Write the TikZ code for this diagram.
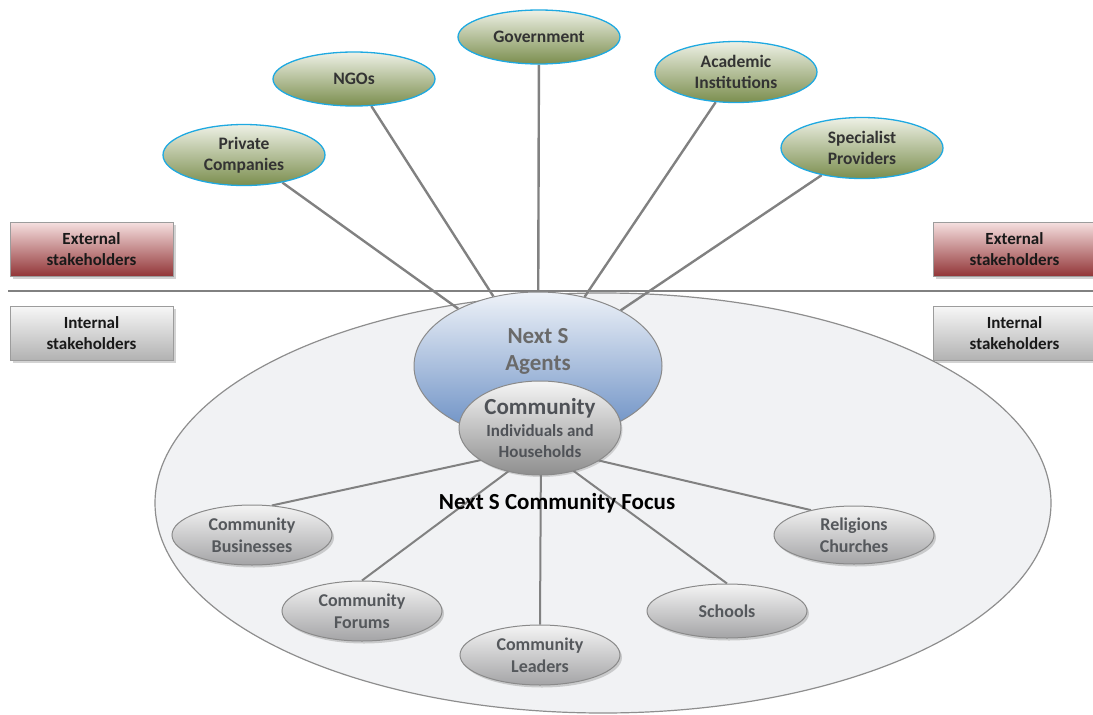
\documentclass[tikz,border=0pt]{standalone}
\usepackage{fontspec}
\setmainfont{Carlito}
\usetikzlibrary{shapes.geometric,shadows}

\definecolor{cyanedge}{HTML}{1FA9E1}
\definecolor{greentop}{HTML}{EEF1E6}
\definecolor{greenbot}{HTML}{7B8E4E}
\definecolor{darktext}{HTML}{333333}
\definecolor{memberedge}{HTML}{8A8A8A}
\definecolor{membertop}{HTML}{F4F4F4}
\definecolor{memberbot}{HTML}{A4A4A6}
\definecolor{membertext}{HTML}{55585C}
\definecolor{boxedge}{HTML}{9C9C9C}
\definecolor{redtop}{HTML}{F6E0E0}
\definecolor{redbot}{HTML}{923638}
\definecolor{greytop}{HTML}{F7F7F7}
\definecolor{greybot}{HTML}{B2B2B2}
\definecolor{fieldfill}{HTML}{F1F2F4}
\definecolor{fieldedge}{HTML}{8E8E8E}
\definecolor{linkgray}{HTML}{818181}
\definecolor{bluetop}{HTML}{EEF2F8}
\definecolor{bluebot}{HTML}{658BC2}
\definecolor{agenttext}{HTML}{6A6A6A}
\definecolor{coretop}{HTML}{F5F5F5}
\definecolor{corebot}{HTML}{8E8E8E}
\definecolor{coretext}{HTML}{4F5257}

\pgfdeclarelayer{back}
\pgfdeclarelayer{links}
\pgfsetlayers{back,links,main}

\begin{document}
\begin{tikzpicture}[x=1pt,y=-1pt,
  partner/.style={ellipse, draw=cyanedge, line width=1.3pt,
    top color=greentop, bottom color=greenbot, inner sep=0pt,
    minimum width=162pt, minimum height=61pt, align=center,
    font=\fontsize{17.5}{21}\selectfont\bfseries, text=darktext},
  member/.style={ellipse, draw=memberedge, line width=1pt,
    top color=membertop, bottom color=memberbot, inner sep=0pt,
    minimum width=160pt, minimum height=60pt, align=center,
    font=\fontsize{18}{21.5}\selectfont\bfseries, text=membertext,
    drop shadow={shadow xshift=2pt, shadow yshift=-2.5pt, opacity=0.35}},
  tagbox/.style={rectangle, draw=boxedge, line width=1pt, inner sep=0pt,
    minimum width=163pt, minimum height=54pt, align=center,
    font=\fontsize{17}{21}\selectfont\bfseries, text=black!90,
    drop shadow={shadow xshift=2.5pt, shadow yshift=-2.5pt, opacity=0.35}},
  extbox/.style={tagbox, top color=redtop, bottom color=redbot},
  intbox/.style={tagbox, top color=greytop, bottom color=greybot},
  link/.style={draw=linkgray, line width=2.4pt},
  sublink/.style={draw=linkgray, line width=2pt},
  divider/.style={draw=linkgray, line width=1.8pt}
]
\useasboundingbox (0,0) rectangle (1093,715);

% community field
\begin{pgfonlayer}{back}
  \node[ellipse, draw=fieldedge, fill=fieldfill, line width=1.2pt,
        minimum width=896pt, minimum height=420pt, inner sep=0pt]
        (field) at (603,503) {};
\end{pgfonlayer}

% external partners
\node[partner, minimum height=54pt] (gov)  at (539,37)  {Government};
\node[partner, minimum height=54pt] (ngo)  at (354,79)  {NGOs};
\node[partner] (priv) at (244,155) {Private\\Companies};
\node[partner] (acad) at (736,72)  {Academic\\Institutions};
\node[partner] (spec) at (862,148) {Specialist\\Providers};

% stakeholder tags
\node[extbox] (extL) at (91.5,249)  {External\\stakeholders};
\node[extbox] (extR) at (1014.5,249) {External\\stakeholders};
\node[intbox] (intL) at (91.5,333)  {Internal\\stakeholders};
\node[intbox] (intR) at (1014.5,333) {Internal\\stakeholders};

% agents and community core
\node[ellipse, draw=memberedge, line width=1pt, top color=bluetop,
      bottom color=bluebot, minimum width=248pt, minimum height=148pt,
      inner sep=0pt] (agents) at (538,366) {};
\node[align=center, text=agenttext,
      font=\fontsize{23}{27}\selectfont\bfseries] (agentslabel) at (538,351) {Next S\\Agents};
\node[ellipse, draw=memberedge, line width=1pt, top color=coretop,
      bottom color=corebot, minimum width=162pt, minimum height=94pt,
      inner sep=0pt, align=center, text=coretext,
      font=\fontsize{17}{21.5}\selectfont\bfseries,
      drop shadow={shadow xshift=1.5pt, shadow yshift=-2pt, opacity=0.3}]
      (core) at (540,428)
      {{\fontsize{23}{24}\selectfont Community}\\
       Individuals and\\
       Households};

\node[font=\fontsize{23}{27}\selectfont\bfseries, text=black] (focus)
      at (557,503) {Next S Community Focus};

% community members
\node[member] (biz)      at (252,535) {Community\\Businesses};
\node[member] (forums)   at (362,611) {Community\\Forums};
\node[member] (leaders)  at (540,655) {Community\\Leaders};
\node[member, minimum height=54pt] (schools) at (727,611) {Schools};
\node[member, minimum height=58pt] (religions) at (854,535) {Religions\\Churches};

% connectors
\begin{pgfonlayer}{links}
  \draw[divider] (8,291) -- (1093,291);
  \draw[link] (priv) -- (agents);
  \draw[link] (ngo) -- (agents);
  \draw[link] (gov) -- (agents);
  \draw[link] (acad) -- (agents);
  \draw[link] (spec) -- (agents);
  \coordinate (hub) at (541,447);
  \draw[sublink] (hub) -- (biz.56);
  \draw[sublink] (hub) -- (forums.north);
  \draw[sublink] (hub) -- (leaders.north);
  \draw[sublink] (hub) -- (schools.north);
  \draw[sublink] (hub) -- (religions.150);
\end{pgfonlayer}
\end{tikzpicture}
\end{document}
